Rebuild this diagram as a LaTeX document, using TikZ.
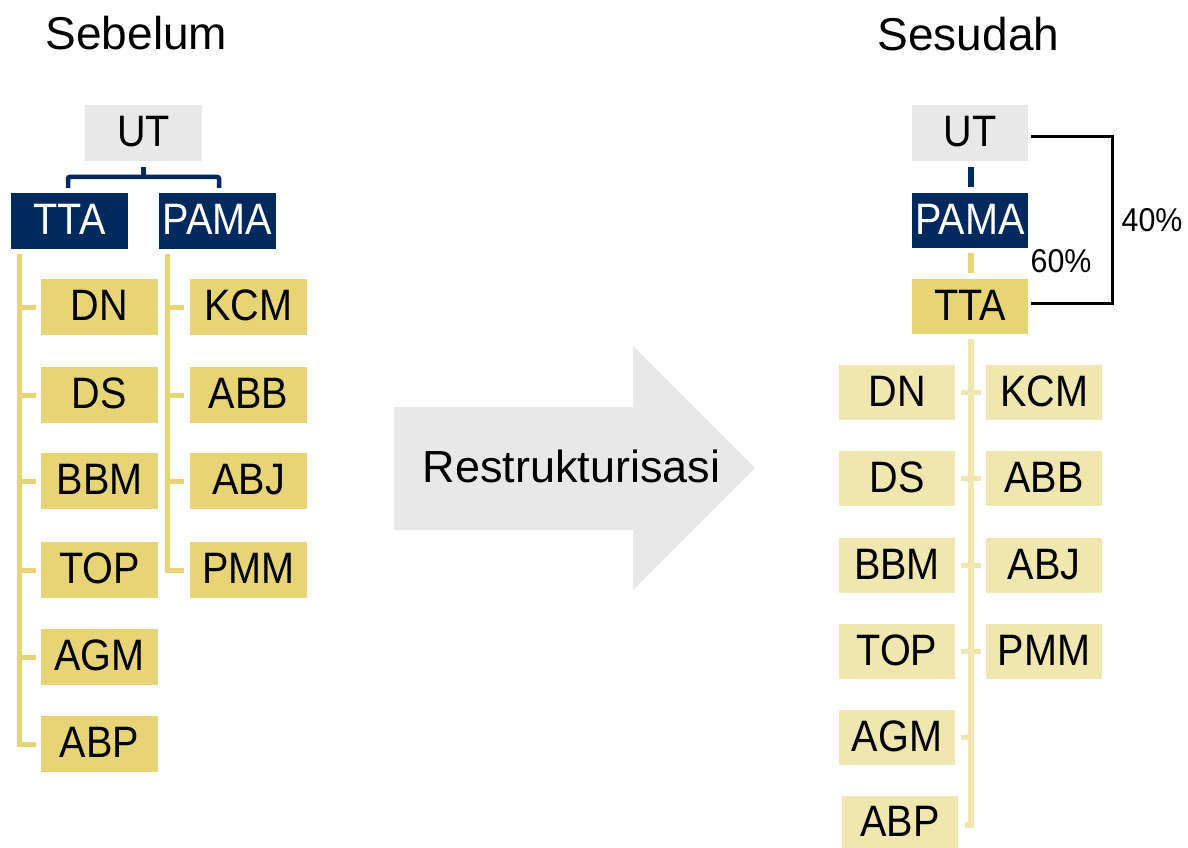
\documentclass[tikz,border=0pt]{standalone}
\usepackage{fontspec}
\setmainfont{Liberation Sans}
\newfontfamily\boxfont[FakeStretch=0.9]{Liberation Sans}
\newfontfamily\pctfont[FakeStretch=0.92]{Liberation Sans}
\usetikzlibrary{calc}
\definecolor{navy}{RGB}{0,41,94}
\definecolor{mustard}{RGB}{230,212,118}
\definecolor{paleyel}{RGB}{240,230,176}
\definecolor{lgray}{RGB}{232,232,232}
\tikzset{
  box/.style={inner sep=0pt, minimum width=117pt, minimum height=56pt, text height=31.5pt, text depth=4pt, font=\boxfont\fontsize{44}{50}\selectfont},
  graybox/.style={box, fill=lgray, text=black},
  navybox/.style={box, fill=navy, text=white},
  ybox/.style={box, fill=mustard, text=black},
  pbox/.style={box, fill=paleyel, text=black, minimum width=116pt, minimum height=55pt},
  navyline/.style={draw=navy, line width=4.5pt, rounded corners=2pt},
  navystub/.style={draw=navy, line width=6pt},
  yline/.style={draw=mustard, line width=5pt},
  ystub/.style={draw=mustard, line width=6pt},
  pline/.style={draw=paleyel, line width=6pt},
  ptick/.style={draw=paleyel, line width=5pt},
  bline/.style={draw=black, line width=3pt, line join=miter},
  title/.style={font=\fontsize{46}{52}\selectfont, anchor=base, inner sep=0pt},
  pct/.style={font=\pctfont\fontsize{33}{38}\selectfont, inner sep=0pt},
}
\begin{document}
\begin{tikzpicture}[x=1pt,y=-1pt]
\useasboundingbox (0,0) rectangle (1188,847);
\clip (0,0) rectangle (1188,847);

% titles
\node[title] (tsebelum) at (136.5,49) {Sebelum};
\node[title] (tsesudah) at (968.5,50) {Sesudah};

% ---------- left (Sebelum) ----------
\node[graybox] (lUT) at (143.5,133) {UT};
\node[navybox] (lTTA) at (69.5,221) {TTA};
\node[navybox] (lPAMA) at (217.5,221) {PAMA};

\node[ybox] (lDN)  at (99.5,307) {DN};
\node[ybox] (lDS)  at (99.5,395) {DS};
\node[ybox] (lBBM) at (99.5,481) {BBM};
\node[ybox] (lTOP) at (99.5,570) {TOP};
\node[ybox] (lAGM) at (99.5,657) {AGM};
\node[ybox] (lABP) at (99.5,744) {ABP};

\node[ybox] (lKCM) at (248.5,307) {KCM};
\node[ybox] (lABB) at (248.5,395) {ABB};
\node[ybox] (lABJ) at (248.5,481) {ABJ};
\node[ybox] (lPMM) at (248.5,570) {PMM};

\draw[navyline] ($(lUT.south)+(0,6)$) -- ($(lUT.south)+(0,16)$);
\draw[navyline] ($(lTTA.north)+(-1.5,-5)$) -- ($(lTTA.north)+(-1.5,-16)$) -- ($(lPAMA.north)+(1.5,-16)$) -- ($(lPAMA.north)+(1.5,-5)$);

\draw[yline] ($(lTTA.south west)+(9,5)$) |- ($(lABP.west)+(-5,0)$);
\foreach \n in {lDN,lDS,lBBM,lTOP,lAGM}
  \draw[yline] ($(\n.west)+(-21,0)$) -- ($(\n.west)+(-5,0)$);
\draw[yline] ($(lPAMA.south west)+(9,5)$) |- ($(lPMM.west)+(-6,0)$);
\foreach \n in {lKCM,lABB,lABJ}
  \draw[yline] ($(\n.west)+(-22,0)$) -- ($(\n.west)+(-6,0)$);

% ---------- arrow ----------
\fill[lgray] (394,407) -- (633,407) -- (633,346) -- (755,468) -- (633,590) -- (633,530) -- (394,530) -- cycle;
\node[font=\fontsize{45}{50}\selectfont, inner sep=0pt] (restr) at (571.5,466) {Restrukturisasi};

% ---------- right (Sesudah) ----------
\node[graybox, minimum width=116pt] (rUT) at (970,133) {UT};
\node[navybox, minimum width=116pt, minimum height=55pt] (rPAMA) at (970,220.5) {PAMA};
\node[ybox, minimum width=116pt, minimum height=55pt] (rTTA) at (970,306.5) {TTA};

\node[pbox] (rDN)  at (897,392.5) {DN};
\node[pbox] (rDS)  at (897,478.5) {DS};
\node[pbox] (rBBM) at (897,565.5) {BBM};
\node[pbox] (rTOP) at (897,651.5) {TOP};
\node[pbox] (rAGM) at (897,737.5) {AGM};
\node[pbox] (rABP) at (900,823) {ABP};

\node[pbox] (rKCM) at (1044,392.5) {KCM};
\node[pbox] (rABB) at (1044,478.5) {ABB};
\node[pbox] (rABJ) at (1044,565.5) {ABJ};
\node[pbox] (rPMM) at (1044,651.5) {PMM};

\draw[navystub] ($(rUT.south)+(1,6)$) -- ($(rPAMA.north)+(1,-6)$);
\draw[ystub] ($(rPAMA.south)+(1,5)$) -- ($(rTTA.north)+(1,-6)$);

\draw[pline] ($(rTTA.south)+(1,5)$) |- ($(rABP.east)+(7,2)$);
\foreach \n in {rKCM,rABB,rABJ,rPMM}
  \draw[ptick] ($(\n.west)+(-25,0)$) -- ($(\n.west)+(-5,0)$);
\draw[ptick] ($(rAGM.east)+(6,0)$) -- ($(rAGM.east)+(16,0)$);

\draw[bline] ($(rUT.east)+(3,3)$) -- ($(rUT.east)+(84,3)$) -- ($(rTTA.east)+(84,-3.5)$) -- ($(rTTA.east)+(3,-3.5)$);
\node[pct] (p40) at (1152,220) {40\%};
\node[pct] (p60) at (1061,261) {60\%};
\end{tikzpicture}
\end{document}
